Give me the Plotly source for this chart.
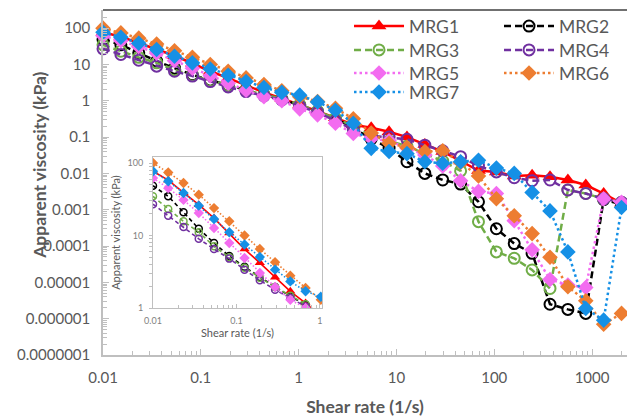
import plotly.graph_objects as go

# ---------------- data ----------------
shear_rate = [0.01, 0.01523, 0.0232, 0.03534, 0.05383, 0.08201, 0.1249, 0.1904, 0.29, 0.4417,
              0.6727, 1.025, 1.561, 2.378, 3.623, 5.519, 8.407, 12.81, 19.51, 29.72,
              45.28, 68.97, 105.1, 160.0, 243.8, 371.4, 565.7, 861.8, 1313, 2000]

mrg1 = [77, 58, 39, 26.6, 17.4, 10.8, 6.5, 4.2, 2.65, 1.70,
        1.17, 0.79, 0.52, 0.34, 0.22, 0.18, 0.14, 0.10, 0.063, 0.040,
        0.022, 0.012, 0.011, 0.0085, 0.0089, 0.0081, 0.0066, 0.0048, 0.0028, 0.0015]
mrg2 = [48.6, 34.7, 20.9, 12.4, 7.9, 5.2, 3.7, 2.68, 1.95, 1.45,
        1.11, 0.76, 0.50, 0.32, 0.18, 0.089, 0.05, 0.021, 0.010, 0.0066,
        0.0051, 0.00166, 0.0003, 0.000117, 0.000063, 0.0000025, 0.0000018, 0.0000014, 0.0019, 0.0014]
mrg3 = [34.7, 23.2, 15.7, 11.1, 7.1, 5.0, 3.6, 2.62, 1.95, 1.48,
        1.13, 0.79, 0.52, 0.33, 0.20, 0.11, 0.079, 0.056, 0.035, 0.022,
        0.0117, 0.00047, 0.000069, 0.000046, 0.000022, 0.0000068, 0.0035, 0.0028, 0.002, 0.0016]
mrg4 = [27, 18.8, 13.1, 9.0, 6.5, 4.8, 3.38, 2.41, 1.79, 1.37,
        1.05, 0.71, 0.48, 0.28, 0.16, 0.11, 0.10, 0.087, 0.060, 0.042,
        0.029, 0.016, 0.011, 0.0076, 0.0063, 0.0066, 0.0035, 0.0028, 0.002, 0.0016]
mrg5 = [62, 45, 31, 20.4, 12.7, 7.9, 4.9, 3.04, 1.95, 1.30,
        1.0, 0.60, 0.41, 0.24, 0.126, 0.091, 0.079, 0.05, 0.032, 0.016,
        0.0063, 0.0032, 0.0028, 0.0005, 0.000079, 0.000012, 0.0000085, 0.0000072, 0.002, 0.0016]
mrg6 = [100, 74, 53, 36.6, 23.9, 15.7, 10, 6.5, 4.27, 2.79,
        1.89, 1.3, 0.95, 0.62, 0.32, 0.13, 0.068, 0.052, 0.040, 0.042,
        0.02, 0.0085, 0.002, 0.00068, 0.00022, 0.000049, 0.0000076, 0.0000031, 0.0000007, 0.0000014]
mrg7 = [77, 56, 38.5, 25.8, 16.9, 11.1, 7.5, 5.05, 3.38, 2.33,
        1.70, 1.43, 0.93, 0.55, 0.24, 0.049, 0.040, 0.035, 0.021, 0.019,
        0.021, 0.023, 0.014, 0.010, 0.003, 0.00093, 0.000069, 0.0000019, 0.00000091, 0.00115]

series_names = ["MRG1", "MRG2", "MRG3", "MRG4", "MRG5", "MRG6", "MRG7"]
series_values = [mrg1, mrg2, mrg3, mrg4, mrg5, mrg6, mrg7]

y_tickvals = [100, 10, 1, 0.1, 0.01, 0.001, 0.0001, 0.00001, 0.000001, 0.0000001]
y_ticktext = ["100", "10", "1", "0.1", "0.01", "0.001", "0.0001", "0.00001", "0.000001", "0.0000001"]
x_tickvals = [0.01, 0.1, 1, 10, 100, 1000]
x_ticktext = ["0.01", "0.1", "1", "10", "100", "1000"]
inset_x_tickvals = [0.01, 0.1, 1]
inset_x_ticktext = ["0.01", "0.1", "1"]
inset_y_tickvals = [1, 10, 100]
inset_y_ticktext = ["1", "10", "100"]

# ---------------- styles ----------------
# legend rows: (MRG1, MRG2), (MRG3, MRG4), (MRG5, MRG6), (MRG7)
styles = {
    "MRG1": dict(color="#ff0000", dash="solid", symbol="triangle-up", size=13, size_in=9, legend="legend"),
    "MRG2": dict(color="#000000", dash="7px,4px", symbol="circle-open", size=11, size_in=7, legend="legend"),
    "MRG3": dict(color="#70ad47", dash="7px,4px", symbol="circle-open", size=11, size_in=7, legend="legend2"),
    "MRG4": dict(color="#7030a0", dash="7px,4px", symbol="circle-open", size=11, size_in=7, legend="legend2"),
    "MRG5": dict(color="#f36cf0", dash="2.5px,3px", symbol="diamond", size=12, size_in=8, legend="legend3"),
    "MRG6": dict(color="#ed7d31", dash="2.5px,3px", symbol="diamond", size=12, size_in=8, legend="legend3"),
    "MRG7": dict(color="#1590e6", dash="2.5px,3px", symbol="diamond", size=12, size_in=8, legend="legend4"),
}

FONT = "Lato, 'Open Sans', sans-serif"
GRAY = "#595959"
AXIS = "#bfbfbf"

fig = go.Figure()

for name, vals in zip(series_names, series_values):
    s = styles[name]
    open_marker = s["symbol"].endswith("open")
    fig.add_trace(go.Scatter(
        x=shear_rate, y=vals, name=name, mode="lines+markers",
        legend=s["legend"], cliponaxis=False,
        line=dict(color=s["color"], width=2.5, dash=s["dash"]),
        marker=dict(symbol=s["symbol"], size=s["size"], color=s["color"],
                    line=dict(color=s["color"], width=2 if open_marker else 0)),
        xaxis="x", yaxis="y",
    ))

for name, vals in zip(series_names, series_values):
    s = styles[name]
    open_marker = s["symbol"].endswith("open")
    fig.add_trace(go.Scatter(
        x=shear_rate, y=vals, name=name, mode="lines+markers", showlegend=False,
        line=dict(color=s["color"], width=1.6,
                  dash=s["dash"].replace("7px,4px", "4px,3px").replace("2.5px,3px", "1.5px,2px")),
        marker=dict(symbol=s["symbol"], size=s["size_in"], color=s["color"],
                    line=dict(color=s["color"], width=1.5 if open_marker else 0)),
        xaxis="x2", yaxis="y2",
    ))

def legend_row(ypos):
    return dict(
        orientation="h", x=0.4695, xanchor="left", y=ypos, yanchor="middle",
        bgcolor="rgba(255,255,255,0)", font=dict(size=17.5, color=GRAY),
        itemwidth=50, entrywidth=85, entrywidthmode="pixels",
    )

fig.update_layout(
    width=627, height=418,
    margin=dict(l=103, r=0, t=10, b=63, autoexpand=False),
    paper_bgcolor="white", plot_bgcolor="white",
    font=dict(family=FONT, color=GRAY),
    xaxis=dict(
        type="log", range=[-2, 3.357], domain=[0, 1], automargin=False,
        tickmode="array", tickvals=x_tickvals, ticktext=x_ticktext,
        tickfont=dict(size=15, color=GRAY), ticklabelstandoff=8,
        showline=True, linecolor=AXIS, linewidth=1.5,
        ticks="inside", ticklen=6, tickcolor=AXIS, tickwidth=1,
        minor=dict(ticks="inside", ticklen=4, tickcolor=AXIS, tickwidth=1,
                   tickmode="array",
                   tickvals=[m * 10 ** e for e in range(-2, 4) for m in range(2, 10)]),
        showgrid=False, zeroline=False,
        title=dict(text="<b>Shear rate (1/s)</b>", font=dict(size=17.5, color=GRAY), standoff=16),
    ),
    yaxis=dict(
        type="log", range=[-7, 2.5], domain=[0, 1], automargin=False,
        tickmode="array", tickvals=y_tickvals, ticktext=y_ticktext,
        tickfont=dict(size=15, color=GRAY), ticklabelstandoff=8,
        showline=True, linecolor=AXIS, linewidth=1.5,
        ticks="inside", ticklen=6, tickcolor=AXIS, tickwidth=1,
        minor=dict(ticks="inside", ticklen=4, tickcolor=AXIS, tickwidth=1,
                   tickmode="array",
                   tickvals=[m * 10 ** e for e in range(-7, 3) for m in range(2, 10)]),
        showgrid=False, zeroline=False,
    ),
    xaxis2=dict(
        type="log", range=[-2, 0.025], domain=[0.0954, 0.418], anchor="y2", automargin=False,
        tickmode="array", tickvals=inset_x_tickvals, ticktext=inset_x_ticktext,
        tickfont=dict(size=9, color="#7f7f7f"), ticklabelstandoff=4,
        showline=True, linecolor=AXIS, linewidth=1, mirror=True,
        ticks="inside", ticklen=4, tickcolor=AXIS,
        minor=dict(ticks="inside", ticklen=3, tickcolor=AXIS,
                   tickmode="array",
                   tickvals=[m * 10 ** e for e in range(-2, 0) for m in range(2, 10)]),
        showgrid=False, zeroline=False,
        title=dict(text="Shear rate (1/s)", font=dict(size=11, color=GRAY), standoff=0),
    ),
    yaxis2=dict(
        type="log", range=[0, 2.083], domain=[0.1362, 0.5739], anchor="x2", automargin=False,
        tickmode="array", tickvals=inset_y_tickvals, ticktext=inset_y_ticktext,
        tickfont=dict(size=9, color="#7f7f7f"), ticklabelstandoff=4,
        showline=True, linecolor=AXIS, linewidth=1, mirror=True,
        ticks="outside", ticklen=3, tickcolor=AXIS,
        minor=dict(ticks="outside", ticklen=3, tickcolor=AXIS,
                   tickmode="array",
                   tickvals=[m * 10 ** e for e in range(0, 2) for m in range(2, 10)]),
        showgrid=False, zeroline=False,
        title=dict(text="Apparent viscosity (kPa)", font=dict(size=11, color=GRAY), standoff=4),
    ),
    legend=legend_row(0.953),
    legend2=legend_row(0.884),
    legend3=legend_row(0.817),
    legend4=legend_row(0.762),
    shapes=[
        dict(type="rect", xref="x2 domain", yref="y2 domain", x0=0, x1=1, y0=0, y1=1,
             fillcolor="white", line=dict(width=0), layer="below"),
        dict(type="line", xref="paper", yref="paper", x0=0, x1=1, y0=1, y1=1,
             line=dict(color="#404040", width=1.5)),
    ],
    annotations=[
        dict(text="<b>Apparent viscosity (kPa)</b>", xref="paper", yref="paper",
             x=-0.145, y=0.55, textangle=-90, showarrow=False,
             font=dict(size=17.5, color=GRAY)),
    ],
)

fig.write_html("out.html", config={"displayModeBar": False},
               post_script="document.body.style.margin='0';document.body.style.padding='0';")
